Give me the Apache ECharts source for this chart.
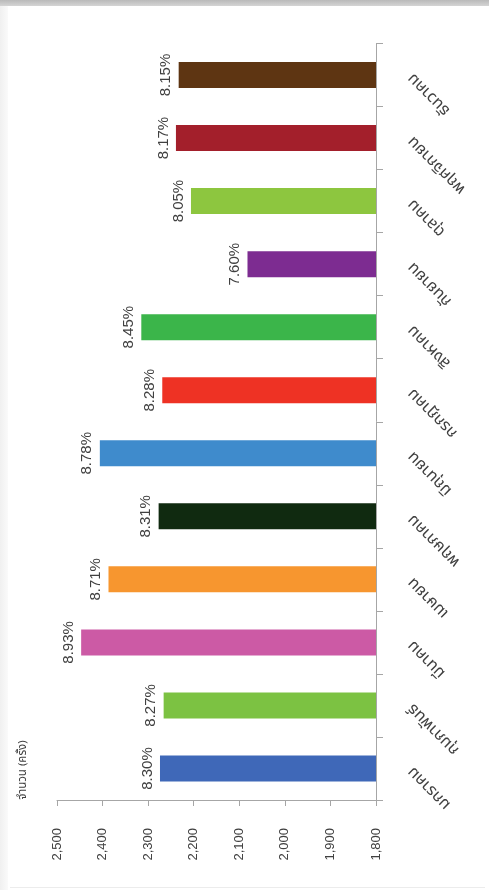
<!DOCTYPE html>
<html>
<head>
<meta charset="utf-8">
<script src="https://cdn.jsdelivr.net/npm/echarts@6/dist/echarts.min.js"></script>
<style>
  html, body { margin: 0; padding: 0; background: #ffffff; }
  #wrap { position: relative; width: 489px; height: 890px; overflow: hidden; background: #fff; }
  #topbar { position: absolute; left: 0; top: 0; width: 489px; height: 6px;
            background: linear-gradient(#b9b9b9, #d4d4d4); }
  #leftedge { position: absolute; left: 0; top: 6px; width: 8px; height: 884px;
            background: linear-gradient(90deg, #f0f0f0, #fafafa); }
  #bottomline { position: absolute; left: 10px; top: 887px; width: 475px; height: 1px; background: #ececec; }
  #chart { position: absolute; left: 0; top: 0; width: 489px; height: 890px; }
</style>
</head>
<body>
<div id="wrap">
  <div id="topbar"></div>
  <div id="leftedge"></div>
  <div id="bottomline"></div>
  <div id="chart"></div>
</div>
<script>
// Data (first category = bottom bar)
const months = ["มกราคม", "กุมภาพันธ์", "มีนาคม", "เมษายน", "พฤษภาคม", "มิถุนายน",
                "กรกฎาคม", "สิงหาคม", "กันยายน", "ตุลาคม", "พฤศจิกายน", "ธันวาคม"];
const counts = [2274, 2266, 2447, 2387, 2277, 2406, 2269, 2315, 2082, 2206, 2239, 2233];
const shares = ["8.30%", "8.27%", "8.93%", "8.71%", "8.31%", "8.78%",
                "8.28%", "8.45%", "7.60%", "8.05%", "8.17%", "8.15%"];
const valueTicks = [1800, 1900, 2000, 2100, 2200, 2300, 2400, 2500];
const barColors = ["#3F68B8", "#7CC242", "#CC5AA5", "#F7962F", "#102A10", "#3F8BCC",
                   "#EE3224", "#3BB54A", "#7D2C91", "#8DC63F", "#A31F2B", "#5E3512"];
const axisTitle = "จำนวน (ครั้ง)";

const FONT = '"Noto Sans Thai", "Noto Sans", "Tlwg Typo", "Loma", "DejaVu Sans", sans-serif';
const NUMFONT = '"Liberation Sans", "Noto Sans", sans-serif';

const chart = echarts.init(document.getElementById('chart'), null, { renderer: 'canvas' });
chart.setOption({
  animation: false,
  backgroundColor: 'transparent',
  grid: { left: 57, right: 113, top: 43.5, bottom: 90, containLabel: false },
  xAxis: {
    type: 'value',
    min: valueTicks[0],
    max: valueTicks[valueTicks.length - 1],
    interval: valueTicks[1] - valueTicks[0],
    inverse: true,
    position: 'bottom',
    axisLine: { show: true, lineStyle: { color: '#a6a6a6', width: 1 } },
    axisTick: { show: true, length: 6, lineStyle: { color: '#a6a6a6' } },
    splitLine: { show: false },
    axisLabel: {
      rotate: 90,
      margin: 28,
      fontSize: 13,
      color: '#404040',
      fontFamily: NUMFONT,
      formatter: v => v.toLocaleString('en-US')
    }
  },
  yAxis: {
    type: 'category',
    position: 'right',
    data: months,
    axisLine: { show: true, lineStyle: { color: '#a6a6a6', width: 1 } },
    axisTick: { show: true, length: 7, alignWithLabel: false, lineStyle: { color: '#a6a6a6' } },
    splitLine: { show: false },
    axisLabel: {
      rotate: 135,
      align: 'right',
      verticalAlign: 'middle',
      margin: 35,
      fontSize: 16,
      color: '#404040',
      fontFamily: FONT
    }
  },
  series: [{
    type: 'bar',
    barWidth: 26,
    data: counts.map((v, i) => ({ value: v, itemStyle: { color: barColors[i] } })),
    label: {
      show: true,
      position: 'left',
      distance: 5,
      rotate: 90,
      align: 'center',
      verticalAlign: 'bottom',
      fontSize: 15,
      color: '#404040',
      fontFamily: NUMFONT,
      formatter: p => shares[p.dataIndex]
    }
  }],
  graphic: [{
    type: 'text',
    x: 24,
    y: 770,
    rotation: Math.PI / 2,
    style: {
      text: axisTitle,
      x: 0, y: 0,
      align: 'center',
      verticalAlign: 'middle',
      fontSize: 11.5,
      fill: '#404040',
      fontFamily: FONT
    }
  }]
});
</script>
</body>
</html>
